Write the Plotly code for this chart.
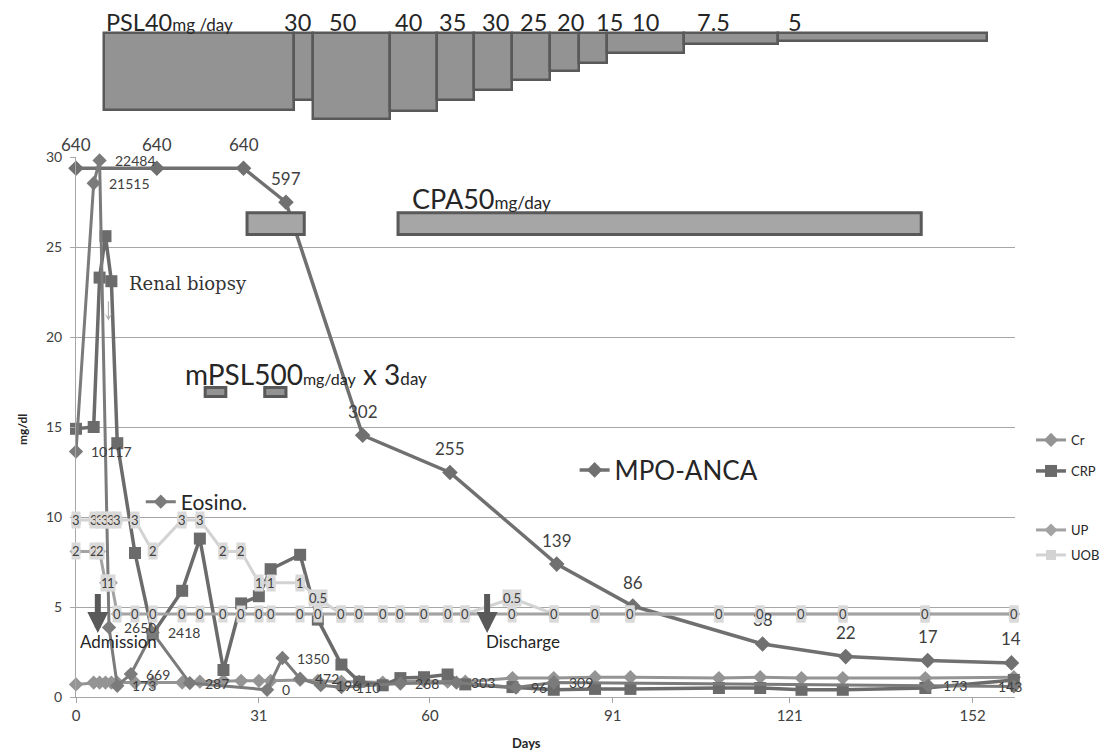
import plotly.graph_objects as go

# ---------------- data ----------------
days = [0, 3, 4, 5, 6, 7, 10, 13, 18, 21, 25, 28, 31, 33, 38, 41, 45, 48, 52, 55,
        59, 63, 66, 74, 81, 88, 94, 109, 116, 123, 130, 144, 159]
cr = [0.7, 0.8, 0.8, 0.8, 0.8, 0.8, 0.8, 0.8, 0.8, 0.85, 0.9, 0.9, 0.9, 0.9, 0.95, 0.9,
      0.85, 0.85, 0.8, 0.85, 0.9, 0.85, 0.85, 1.05, 1.05, 1.1, 1.1, 1.05, 1.1, 1.05,
      1.05, 1.05, 1.1]
crp = [14.9, 15.0, 23.3, 25.6, 23.1, 14.1, 8.0, 3.5, 5.9, 8.8, 1.5, 5.2, 5.6, 7.1, 7.9,
       4.3, 1.8, 0.85, 0.65, 1.05, 1.1, 1.25, 0.7, 0.55, 0.4, 0.45, 0.45, 0.5, 0.5, 0.4,
       0.4, 0.5, 0.95]
up = [2, 2, 2, 1, 1, 0, 0, 0, 0, 0, 0, 0, 0, 0, 0, 0, 0, 0, 0, 0, 0, 0, 0, 0, 0, 0,
      0, 0, 0, 0, 0, 0, 0]
uob = [3, 3, 3, 3, 3, 3, 3, 2, 3, 3, 2, 2, 1, 1, 1, 0.5, 0, 0, 0, 0, 0, 0, 0, 0.5, 0,
       0, 0, 0, 0, 0, 0, 0, 0]

mpo_days = [0, 13.7, 28.4, 35.6, 48.6, 63.4, 81.5, 94.4, 116.4, 130.5, 144.4, 158.6]
mpo = [640, 640, 640, 597, 302, 255, 139, 86, 38, 22, 17, 14]

eos_days = [0, 3, 4, 5.6, 7, 9.3, 13, 19.3, 32.4, 35, 38, 41.5, 45, 55, 64.5, 74.6,
            81, 144.5, 159]
eos = [10117, 21515, 22484, 2650, 173, 669, 2418, 287, 0, 1350, 472, 196, 110, 268,
       303, 96, 309, 173, 143]

# prednisolone taper (top panel)
psl_start = [4.75, 37.0, 40.2, 53.2, 61.2, 67.5, 73.9, 80.4, 85.3, 90.0, 103.1, 119.0]
psl_end = [37.0, 40.2, 53.2, 61.2, 67.5, 73.9, 80.4, 85.3, 90.0, 103.1, 119.0, 154.5]
psl_dose = ["40", "30", "50", "40", "35", "30", "25", "20", "15", "10", "7.5", "5"]
psl_depth = [77, 67, 86, 78, 67, 57, 47, 38, 30, 20, 11, 8]
psl_label_day = [4.9, 37.6, 45.1, 56.3, 63.8, 71.2, 77.5, 83.9, 90.4, 96.6, 108.0, 121.9]

cpa_start = [29.0, 54.6]
cpa_end = [38.7, 143.3]
mpsl_start = [21.9, 32.0]
mpsl_end = [25.4, 35.6]

x_ticks = [0, 31, 60, 91, 121, 152]
y_ticks = [0, 5, 10, 15, 20, 25, 30]

# ---------------- scale mappings for overlaid series (value -> mg/dl axis) -------
Y_MAX = 30
MPO_A, MPO_B = 1.28, 0.0439      # y = a + b*v
EOS_A, EOS_B = 0.40, 0.001308
URI_A, URI_B = 4.61, 1.74


def rng(a, b):
    return [(0 - a) / b, (Y_MAX - a) / b]


FONT = "Lato"
TXT = "#404040"
DARK = "#262626"

fig = go.Figure()

# urinalysis
fig.add_trace(go.Scatter(x=days, y=uob, yaxis="y5", name="UOB", mode="lines+markers",
                         line=dict(color="#d3d3d3", width=3),
                         marker=dict(symbol="square", size=10, color="#d3d3d3"),
                         cliponaxis=False, legend="legend4"))
fig.add_trace(go.Scatter(x=days, y=up, yaxis="y5", name="UP", mode="lines+markers",
                         line=dict(color="#a3a3a3", width=3),
                         marker=dict(symbol="diamond", size=10, color="#a3a3a3"),
                         cliponaxis=False, legend="legend3"))
fig.add_trace(go.Scatter(x=days, y=cr, name="Cr", mode="lines+markers",
                         line=dict(color="#949494", width=3),
                         marker=dict(symbol="diamond", size=11, color="#949494"),
                         cliponaxis=False, legend="legend"))
fig.add_trace(go.Scatter(x=eos_days, y=eos, yaxis="y4", name="Eosino.", mode="lines+markers",
                         line=dict(color="#7b7b7b", width=3),
                         marker=dict(symbol="diamond", size=11, color="#7b7b7b"),
                         cliponaxis=False, legend="legend5"))
fig.add_trace(go.Scatter(x=days, y=crp, name="CRP", mode="lines+markers",
                         line=dict(color="#6b6b6b", width=3.5),
                         marker=dict(symbol="square", size=12, color="#6b6b6b"),
                         cliponaxis=False, legend="legend2"))
fig.add_trace(go.Scatter(x=mpo_days, y=mpo, yaxis="y3", name="MPO-ANCA", mode="lines+markers",
                         line=dict(color="#707070", width=3.5),
                         marker=dict(symbol="diamond", size=12, color="#707070"),
                         cliponaxis=False, legend="legend6"))

# PSL taper bars (top panel)
fig.add_trace(go.Bar(x=[(s + e) / 2 for s, e in zip(psl_start, psl_end)],
                     width=[e - s for s, e in zip(psl_start, psl_end)],
                     y=[-d for d in psl_depth], base=0, yaxis="y2",
                     marker=dict(color="#939393", line=dict(color="#595959", width=2.5)),
                     showlegend=False, hoverinfo="skip"))

shapes = []
for s, e in zip(cpa_start, cpa_end):
    shapes.append(dict(type="rect", xref="x", yref="y", x0=s, x1=e, y0=25.7, y1=26.9,
                       fillcolor="#a6a6a6", line=dict(color="#595959", width=3)))
for s, e in zip(mpsl_start, mpsl_end):
    shapes.append(dict(type="rect", xref="x", yref="y", x0=s, x1=e, y0=16.7, y1=17.2,
                       fillcolor="#939393", line=dict(color="#595959", width=3)))

ann = []


def fmt(v):
    return str(int(v)) if float(v).is_integer() else str(v)


# MPO-ANCA labels (above)
for d, v in zip(mpo_days, mpo):
    ann.append(dict(x=d, y=v, xref="x", yref="y3", text=str(v), showarrow=False,
                    yshift=24, font=dict(family=FONT, size=17, color=TXT)))
# Eosino labels (right)
for i, (d, v) in enumerate(zip(eos_days, eos)):
    last = i == len(eos) - 1
    ann.append(dict(x=d, y=v, xref="x", yref="y4", text=str(v), showarrow=False,
                    xanchor="center" if last else "left", xshift=-4 if last else 13,
                    font=dict(family=FONT, size=14, color=TXT)))
# urinalysis labels (boxed, centred)
for series in (up, uob):
    for d, v in zip(days, series):
        ann.append(dict(x=d, y=v, xref="x", yref="y5", text=fmt(v), showarrow=False,
                        bgcolor="#d9d9d9", borderpad=0,
                        font=dict(family=FONT, size=13, color=TXT)))

# PSL dose labels
for i, (d, t) in enumerate(zip(psl_label_day, psl_dose)):
    if i == 0:
        ann.append(dict(x=d, y=11.5, xref="x", yref="y2", xanchor="left", showarrow=False,
                        borderpad=0,
                        text="PSL" + t + "<span style='font-size:17px'>mg /day</span>",
                        font=dict(family=FONT, size=23.5, color=DARK)))
    else:
        ann.append(dict(x=d, y=11.5, xref="x", yref="y2", showarrow=False, text=t,
                        borderpad=0, font=dict(family=FONT, size=23.5, color=DARK)))

ann += [
    dict(x=56.6, y=27.67, xref="x", yref="y", xanchor="left", showarrow=False,
         text="CPA50<span style='font-size:17px'>mg/day</span>",
         font=dict(family=FONT, size=27, color=DARK)),
    dict(x=18.1, y=17.94, xref="x", yref="y", xanchor="left", showarrow=False,
         text="mPSL500<span style='font-size:16px'>mg/day</span> x 3<span style='font-size:17px'>day</span>",
         font=dict(family=FONT, size=28, color=DARK)),
    dict(x=8.6, y=23.0, xref="x", yref="y", xanchor="left", showarrow=False,
         text="Renal biopsy", font=dict(family="DejaVu Serif", size=18, color="#333333")),
    dict(x=0.3, y=3.1, xref="x", yref="y", xanchor="left", showarrow=False,
         text="Admission", font=dict(family=FONT, size=17, color=DARK)),
    dict(x=69.2, y=3.1, xref="x", yref="y", xanchor="left", showarrow=False,
         text="Discharge", font=dict(family=FONT, size=17, color=DARK)),
    # arrows
    dict(x=3.7, y=3.56, ax=3.7, ay=5.8, xref="x", yref="y", axref="x", ayref="y",
         text="", showarrow=True, arrowhead=2, arrowsize=0.7, arrowwidth=6,
         arrowcolor="#595959"),
    dict(x=69.7, y=3.56, ax=69.7, ay=5.8, xref="x", yref="y", axref="x", ayref="y",
         text="", showarrow=True, arrowhead=2, arrowsize=0.7, arrowwidth=6,
         arrowcolor="#595959"),
    dict(x=5.5, y=20.9, ax=5.5, ay=22.05, xref="x", yref="y", axref="x", ayref="y",
         text="", showarrow=True, arrowhead=3, arrowsize=1, arrowwidth=1.2,
         arrowcolor="#b0b0b0"),
    # axis titles
    dict(x=-0.0575, y=(697 - 430) / 687, xref="paper", yref="paper", showarrow=False,
         xanchor="center", yanchor="middle",
         text="<b>mg/dl</b>", textangle=-90, font=dict(family=FONT, size=12, color=DARK)),
    dict(x=(526 - 76) / 939, y=(697 - 743) / 687, xref="paper", yref="paper",
         xanchor="center", yanchor="middle",
         showarrow=False, text="<b>Days</b>", font=dict(family=FONT, size=13, color=DARK)),
]

main_dom = [0, 540 / 687]
leg = dict(bgcolor="rgba(0,0,0,0)", borderwidth=0, xanchor="left", yanchor="middle",
           font=dict(family=FONT, size=13, color=DARK))
RX = (1031 - 76) / 939

# the page body adds an 8 px margin, so the figure is 8 px smaller and margins shifted
fig.update_layout(
    width=1101, height=744,
    margin=dict(l=68, r=94, t=2, b=55, autoexpand=False),
    paper_bgcolor="white", plot_bgcolor="white",
    font=dict(family=FONT, color=TXT),
    xaxis=dict(range=[0, 159.2], tickvals=x_ticks, showgrid=False, zeroline=False,
               showline=True, linecolor="#a6a6a6", ticks="outside", ticklen=5,
               tickcolor="#a6a6a6", tickfont=dict(family=FONT, size=15, color=TXT),
               automargin=False),
    yaxis=dict(domain=main_dom, range=[0, Y_MAX], tickvals=y_ticks, showgrid=True,
               gridcolor="#a6a6a6", zeroline=False, showline=True, linecolor="#a6a6a6",
               ticks="outside", ticklen=5, tickcolor="#a6a6a6", ticklabelstandoff=5,
               tickfont=dict(family=FONT, size=14, color=TXT), automargin=False),
    yaxis2=dict(domain=[(697 - 125) / 687, 1], range=[-92, 23], visible=False,
                anchor="x"),
    yaxis3=dict(overlaying="y", range=rng(MPO_A, MPO_B), visible=False),
    yaxis4=dict(overlaying="y", range=rng(EOS_A, EOS_B), visible=False),
    yaxis5=dict(overlaying="y", range=rng(URI_A, URI_B), visible=False),
    legend=dict(leg, x=RX, y=(697 - 440) / 687),
    legend2=dict(leg, x=RX, y=(697 - 471) / 687),
    legend3=dict(leg, x=RX, y=(697 - 530) / 687),
    legend4=dict(leg, x=RX, y=(697 - 555) / 687),
    legend5=dict(leg, x=0.069, y=(697 - 502) / 687, font=dict(family=FONT, size=21, color=DARK)),
    legend6=dict(leg, x=0.531, y=(697 - 470) / 687, font=dict(family=FONT, size=26, color=DARK)),
    shapes=shapes, annotations=ann, bargap=0,
)

fig.write_html("out.html")
